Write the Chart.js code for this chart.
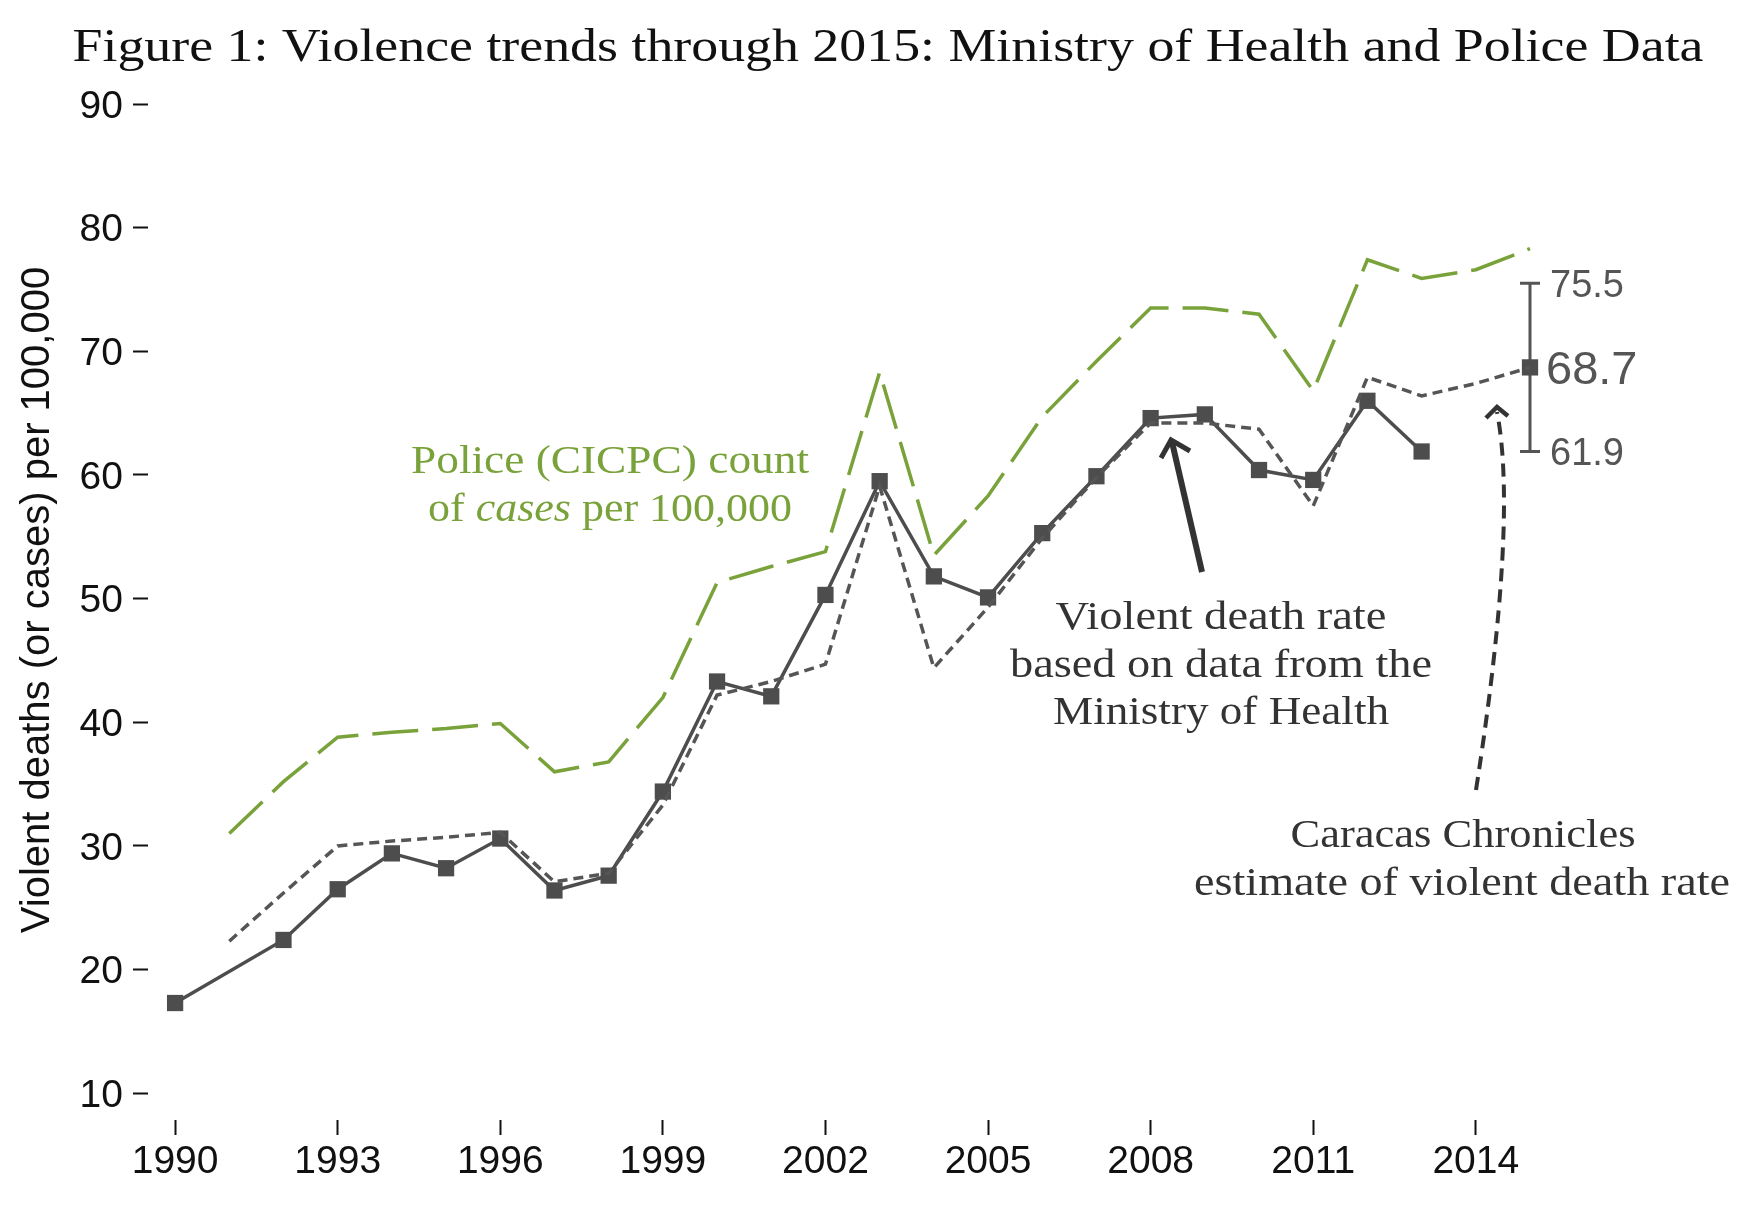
<!DOCTYPE html>
<html>
<head>
<meta charset="utf-8">
<script src="https://cdn.jsdelivr.net/npm/chart.js@4.4.1/dist/chart.umd.min.js"></script>
<style>
  html, body { margin: 0; padding: 0; background: #fff; }
  #wrap { width: 1755px; height: 1210px; }
</style>
</head>
<body>
<div id="wrap"><canvas id="chart" width="1755" height="1210"></canvas></div>
<script>
// years on the x axis
const years = [1990, 1991, 1992, 1993, 1994, 1995, 1996, 1997, 1998, 1999, 2000, 2001, 2002,
  2003, 2004, 2005, 2006, 2007, 2008, 2009, 2010, 2011, 2012, 2013, 2014, 2015];

// violent death rate, Ministry of Health (solid line with squares)
const ministryRate = [17.3, null, 22.4, 26.5, 29.4, 28.2, 30.6, 26.4, 27.6, 34.4, 43.3, 42.1, 50.3,
  59.5, 51.8, 50.1, 55.3, 59.9, 64.6, 64.9, 60.4, 59.6, 66.0, 61.9, null, null];

// dotted series
const adjustedRate = [null, 22.3, 26.2, 30.0, 30.4, 30.7, 31.1, 27.1, 27.8, 33.3, 42.2, 43.3, 44.7,
  59.1, 44.4, 49.3, 54.9, 59.8, 64.2, 64.2, 63.7, 57.5, 67.9, 66.4, 67.4, 68.7];

// police (CICPC) cases per 100,000 (green dashed)
const policeCases = [null, 31.0, 35.2, 38.8, 39.2, 39.5, 39.9, 36.0, 36.8, 42.0, 51.3, 52.6, 53.8,
  68.3, 53.5, 58.3, 64.7, 69.2, 73.5, 73.5, 73.0, 66.8, 77.4, 75.9, 76.6, 78.3];

// Caracas Chronicles 2015 estimate with range
const ccYears = [2015];
const ccEstimate = [68.7];
const ccLow = [61.9];
const ccHigh = [75.5];

const xTicks = [1990, 1993, 1996, 1999, 2002, 2005, 2008, 2011, 2014];
const yTicks = [10, 20, 30, 40, 50, 60, 70, 80, 90];

const GREEN = '#79a23a';
const GRAY = '#4d4d4d';
const SANS = '"Liberation Sans", Arial, sans-serif';
const SERIF = '"Liberation Serif", "Times New Roman", serif';

const toXY = arr => years.map((x, i) => ({ x: x, y: arr[i] }));

// draw serif text stretched to a target width (Computer Modern is wider than Times)
function drawFitted(ctx, parts, cx, cy, targetW, size, color) {
  let total = 0;
  const widths = parts.map(p => {
    ctx.font = (p[1] || '') + ' ' + size + 'px ' + SERIF;
    const w = ctx.measureText(p[0]).width;
    total += w;
    return w;
  });
  const sx = targetW / total;
  ctx.save();
  ctx.translate(cx - targetW / 2, cy);
  ctx.scale(sx, 1);
  ctx.fillStyle = color;
  ctx.textBaseline = 'middle';
  ctx.textAlign = 'left';
  let x = 0;
  parts.forEach((p, i) => {
    ctx.font = (p[1] || '') + ' ' + size + 'px ' + SERIF;
    ctx.fillText(p[0], x, 0);
    x += widths[i];
  });
  ctx.restore();
}

const decorations = {
  id: 'decorations',
  beforeDatasetsDraw(chart) {
    const ctx = chart.ctx;
    const xs = chart.scales.x, ys = chart.scales.y;
    // range bar for 2015 estimate
    ccYears.forEach((yr, i) => {
      const px = xs.getPixelForValue(yr);
      const top = ys.getPixelForValue(ccHigh[i]);
      const bot = ys.getPixelForValue(ccLow[i]);
      ctx.save();
      ctx.strokeStyle = '#555';
      ctx.lineWidth = 3;
      ctx.beginPath();
      ctx.moveTo(px, top); ctx.lineTo(px, bot);
      ctx.moveTo(px - 10, top); ctx.lineTo(px + 10, top);
      ctx.moveTo(px - 10, bot); ctx.lineTo(px + 10, bot);
      ctx.stroke();
      ctx.restore();
    });
  },
  afterDraw(chart) {
    const ctx = chart.ctx;
    const xs = chart.scales.x, ys = chart.scales.y;

    // title
    drawFitted(ctx, [['Figure 1: Violence trends through 2015: Ministry of Health and Police Data']],
      888, 49, 1631, 47, '#111');

    // y axis title
    ctx.save();
    ctx.translate(38, 600);
    ctx.rotate(-Math.PI / 2);
    ctx.font = '40px ' + SANS;
    ctx.fillStyle = '#111';
    ctx.textAlign = 'center';
    ctx.textBaseline = 'middle';
    ctx.fillText('Violent deaths (or cases) per 100,000', 0, 0);
    ctx.restore();

    // range labels
    ccYears.forEach((yr, i) => {
      const px = xs.getPixelForValue(yr);
      ctx.save();
      ctx.fillStyle = '#555';
      ctx.textAlign = 'left';
      ctx.textBaseline = 'middle';
      ctx.font = '38px ' + SANS;
      ctx.fillText(ccHigh[i].toFixed(1), px + 20, ys.getPixelForValue(ccHigh[i]) + 3);
      ctx.fillText(ccLow[i].toFixed(1), px + 20, ys.getPixelForValue(ccLow[i]) + 3);
      ctx.font = '47px ' + SANS;
      ctx.fillText(ccEstimate[i].toFixed(1), px + 16, ys.getPixelForValue(ccEstimate[i]) + 4);
      ctx.restore();
    });

    // police annotation
    drawFitted(ctx, [['Police (CICPC) count']], 610, 463, 398, 39, GREEN);
    drawFitted(ctx, [['of '], ['cases', 'italic'], [' per 100,000']], 610, 511, 364, 39, GREEN);

    // ministry annotation
    drawFitted(ctx, [['Violent death rate']], 1221, 619, 331, 39, '#333');
    drawFitted(ctx, [['based on data from the']], 1221, 667, 422, 39, '#333');
    drawFitted(ctx, [['Ministry of Health']], 1221, 714, 336, 39, '#333');

    // caracas chronicles annotation
    drawFitted(ctx, [['Caracas Chronicles']], 1463, 837, 345, 39, '#333');
    drawFitted(ctx, [['estimate of violent death rate']], 1462, 885, 536, 39, '#333');

    // solid arrow
    ctx.save();
    ctx.strokeStyle = '#333';
    ctx.lineWidth = 6;
    ctx.lineCap = 'butt';
    ctx.beginPath();
    ctx.moveTo(1202, 572); ctx.lineTo(1172, 442);
    ctx.stroke();
    ctx.lineWidth = 5;
    ctx.lineJoin = 'miter';
    ctx.beginPath();
    ctx.moveTo(1161, 458); ctx.lineTo(1171, 440); ctx.lineTo(1190, 451);
    ctx.stroke();
    ctx.restore();

    // dashed curved arrow
    ctx.save();
    ctx.strokeStyle = '#333';
    ctx.lineWidth = 4;
    ctx.setLineDash([13, 8]);
    ctx.beginPath();
    ctx.moveTo(1476, 790);
    ctx.quadraticCurveTo(1518, 520, 1497, 412);
    ctx.stroke();
    ctx.setLineDash([]);
    ctx.lineWidth = 4.5;
    ctx.beginPath();
    ctx.moveTo(1486, 418); ctx.lineTo(1497, 407); ctx.lineTo(1508, 416);
    ctx.stroke();
    ctx.restore();
  }
};

new Chart(document.getElementById('chart'), {
  type: 'line',
  data: {
    datasets: [
      {
        label: 'Police (CICPC) cases',
        data: toXY(policeCases),
        borderColor: GREEN,
        borderWidth: 3.5,
        borderDash: [46, 14],
        pointRadius: 0,
        tension: 0,
        clip: false
      },
      {
        label: 'Adjusted rate',
        data: toXY(adjustedRate),
        borderColor: '#555',
        borderWidth: 3.5,
        borderDash: [10, 6],
        pointRadius: 0,
        tension: 0,
        clip: false
      },
      {
        label: 'Ministry of Health',
        data: toXY(ministryRate),
        borderColor: GRAY,
        borderWidth: 3.5,
        pointStyle: 'rect',
        pointRadius: 11.5,
        pointBorderWidth: 0,
        pointBackgroundColor: GRAY,
        spanGaps: true,
        tension: 0,
        clip: false
      },
      {
        label: 'Caracas Chronicles estimate',
        data: ccYears.map((x, i) => ({ x: x, y: ccEstimate[i] })),
        showLine: false,
        pointStyle: 'rect',
        pointRadius: 11.5,
        pointBorderWidth: 0,
        pointBackgroundColor: GRAY,
        clip: false
      }
    ]
  },
  options: {
    responsive: false,
    animation: false,
    devicePixelRatio: 1,
    layout: { padding: { top: 104, right: 225, left: 0, bottom: 0 } },
    plugins: {
      legend: { display: false },
      tooltip: { enabled: false }
    },
    scales: {
      x: {
        type: 'linear',
        min: 1989.5,
        max: 2015,
        afterBuildTicks: s => { s.ticks = xTicks.map(v => ({ value: v })); },
        afterFit: s => { s.height = 90; },
        grid: { drawOnChartArea: false, drawTicks: true, tickLength: 15, tickColor: '#111', tickWidth: 2 },
        border: { display: false },
        ticks: {
          color: '#111',
          font: { family: SANS, size: 39 },
          padding: 4,
          maxRotation: 0,
          autoSkip: false,
          callback: v => String(v)
        }
      },
      y: {
        min: 7.84,
        max: 90,
        afterBuildTicks: s => { s.ticks = yTicks.map(v => ({ value: v })); },
        afterFit: s => { s.width = 148; },
        grid: { drawOnChartArea: false, drawTicks: true, tickLength: 15, tickColor: '#111', tickWidth: 2 },
        border: { display: false },
        ticks: {
          color: '#111',
          font: { family: SANS, size: 39 },
          padding: 10,
          labelOffset: 3,
          autoSkip: false,
          callback: v => String(v)
        }
      }
    }
  },
  plugins: [decorations]
});
</script>
</body>
</html>
